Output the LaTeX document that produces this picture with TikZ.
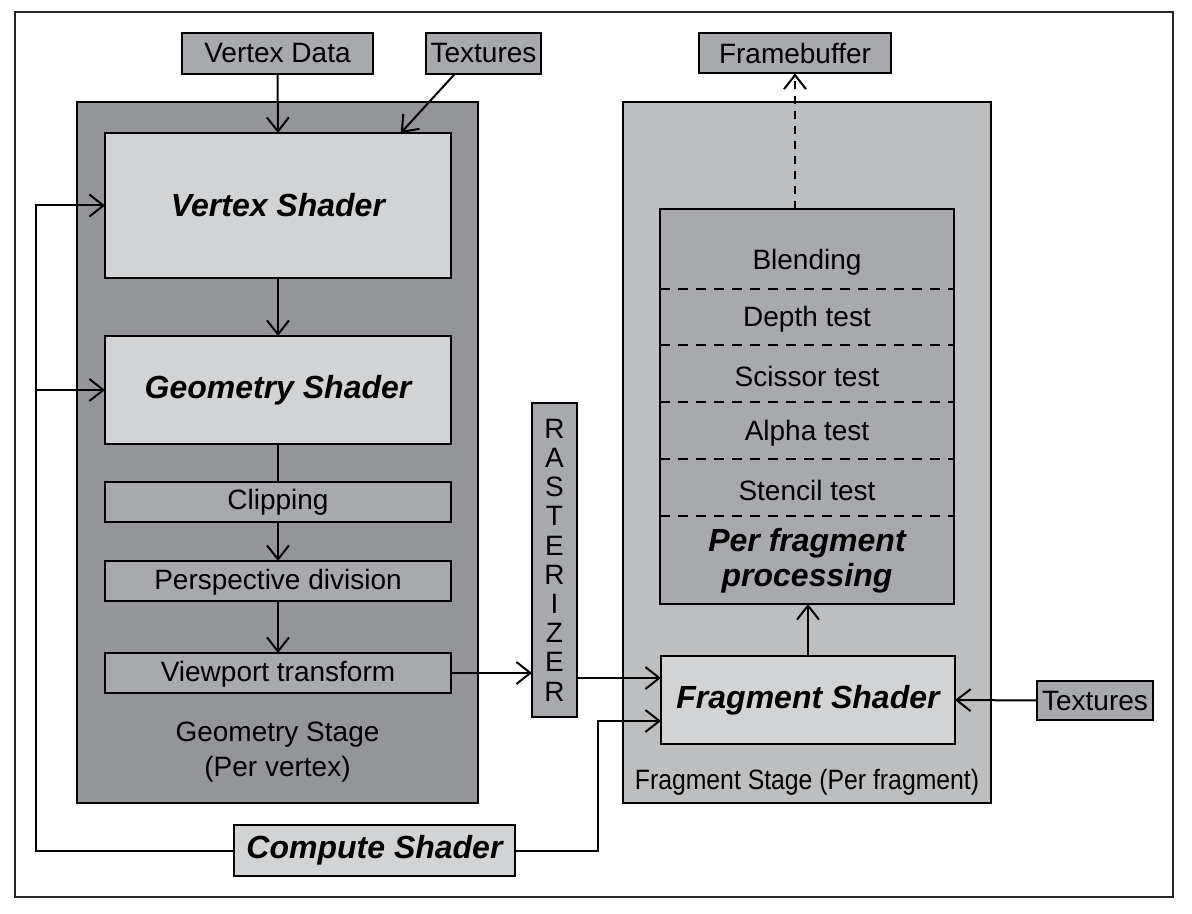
\documentclass[tikz,border=0pt]{standalone}
\usepackage{fontspec}
\usepackage{graphicx}
\setmainfont{Liberation Sans}
\usetikzlibrary{arrows.meta,calc}
\definecolor{gstage}{HTML}{939598}
\definecolor{fstage}{HTML}{BCBEC0}
\definecolor{lightbox}{HTML}{D1D3D4}
\definecolor{midbox}{HTML}{A7A9AC}
\begin{document}
\begin{tikzpicture}[x=0.5pt,y=-0.5pt,
  boxbase/.style={draw=black, line width=1pt, inner sep=0pt, outer sep=0pt, align=center},
  lightnode/.style={boxbase, fill=lightbox},
  midnode/.style={boxbase, fill=midbox},
  regtext/.style={font=\fontsize{14}{17.5}\selectfont},
  bitext/.style={font=\fontsize{16}{17.5}\selectfont\bfseries\itshape},
  lbl/.style={inner sep=0pt, outer sep=0pt, align=center},
  conn/.style={line width=1pt, -{Straight Barb[length=7pt,width=11pt]}},
  plainline/.style={line width=1pt},
  sepline/.style={line width=0.8pt, dash pattern=on 5pt off 4pt},
  dconn/.style={line width=1pt, dash pattern=on 4pt off 3.5pt, -{Straight Barb[length=7pt,width=11pt]}},
]
\useasboundingbox (0,0) rectangle (1192,914);
\fill[white] (0,0) rectangle (1192,914);
\draw[line width=0.9pt, draw=black!85] (15,12) rectangle (1173,897);

% stages
\node[boxbase, fill=gstage, minimum width=200.5pt, minimum height=350.5pt] (gstage) at (277.5,452.5) {};
\node[boxbase, fill=fstage, minimum width=184pt, minimum height=350.5pt] (fstagebox) at (807,452.5) {};

% inputs
\node[midnode, regtext, minimum width=95.5pt, minimum height=20.5pt] (vdata) at (277.5,53.5) {Vertex Data};
\node[midnode, regtext, minimum width=57.5pt, minimum height=20.5pt] (tex1) at (483.5,53.5) {Textures};
\node[midnode, regtext, minimum width=96pt, minimum height=20pt] (fbuf) at (795,53.5) {Framebuffer};
\node[midnode, regtext, minimum width=58pt, minimum height=19.5pt] (tex2) at (1095,700.5) {Textures};

% geometry stage
\node[lightnode, bitext, minimum width=173pt, minimum height=72.5pt] (vshader) at (278,205.5) {Vertex Shader};
\node[lightnode, bitext, minimum width=173pt, minimum height=54pt] (gshader) at (278,390) {Geometry Shader};
\node[midnode, minimum width=173pt, minimum height=20pt] (clip) at (278,502) {};
\node[lbl, regtext] (cliptxt) at (278,502) {Clipping};
\node[midnode, minimum width=173pt, minimum height=20pt] (persp) at (278,581) {};
\node[lbl, regtext] (persptxt) at (278,582) {Perspective division};
\node[midnode, minimum width=173pt, minimum height=20pt] (viewp) at (278,673) {};
\node[lbl, regtext] (viewptxt) at (278,674) {Viewport transform};
\node[lbl, regtext] (gstagelbl) at (277.5,752) {Geometry Stage\\(Per vertex)};

% rasterizer
\node[midnode, minimum width=22.5pt, minimum height=157pt, font=\fontsize{14}{14.6}\selectfont] (raster) at (554.5,560) {R\\A\\S\\T\\E\\R\\I\\Z\\E\\R};

% fragment stage
\node[midnode, minimum width=147pt, minimum height=197.5pt] (perfrag) at (807,406.5) {};
\foreach \yy in {289,345,402,459,516} \draw[sepline] (660,\yy) -- (954,\yy);
\node[lbl, regtext] (blend) at (807,262) {Blending};
\node[lbl, regtext] (depth) at (807,319) {Depth test};
\node[lbl, regtext] (sciss) at (807,376) {Scissor test};
\node[lbl, regtext] (alpha) at (807,433) {Alpha test};
\node[lbl, regtext] (stencil) at (807,490) {Stencil test};
\node[lbl, bitext] (pftxt) at (807,561) {Per fragment\\processing};
\node[lightnode, bitext, minimum width=147pt, minimum height=44pt] (fshader) at (808,700) {Fragment Shader};
\node[lbl, regtext] (fstagelbl) at (807,782) {\scalebox{0.885}[1]{Fragment Stage (Per fragment)}};

% compute shader
\node[lightnode, bitext, minimum width=140.5pt, minimum height=25.5pt] (compute) at (374.5,850.5) {Compute Shader};

% connectors
\draw[conn] (vdata.south) -- (vshader.north);
\draw[conn] ($(tex1.south west)!0.25!(tex1.south east)$) -- ($(vshader.north west)!0.855!(vshader.north east)$);
\draw[conn] (vshader.south) -- (gshader.north);
\draw[plainline] (gshader.south) -- (clip.north);
\draw[conn] (clip.south) -- (persp.north);
\draw[conn] (persp.south) -- (viewp.north);
\draw[conn] (viewp.east) -- (viewp.east -| raster.west);

\coordinate (lx) at (36,0);
\draw[conn] (compute.west) -- (compute.west -| lx) -- (vshader.west -| lx) -- (vshader.west);
\draw[conn] (gshader.west -| lx) -- (gshader.west);

\coordinate (rx) at (598,0);
\coordinate (fin1) at ($(fshader.west)+(0,-22)$);
\coordinate (fin2) at ($(fshader.west)+(0,21)$);
\draw[conn] (fin1 -| raster.east) -- (fin1);
\draw[conn] (compute.east) -- (compute.east -| rx) -- (fin2 -| rx) -- (fin2);

\draw[conn] (tex2.west) -- (fshader.east);
\draw[conn] (fshader.north) -- (fshader.north |- perfrag.south);
\draw[dconn] (fbuf.south |- perfrag.north) -- (fbuf.south);
\end{tikzpicture}
\end{document}
